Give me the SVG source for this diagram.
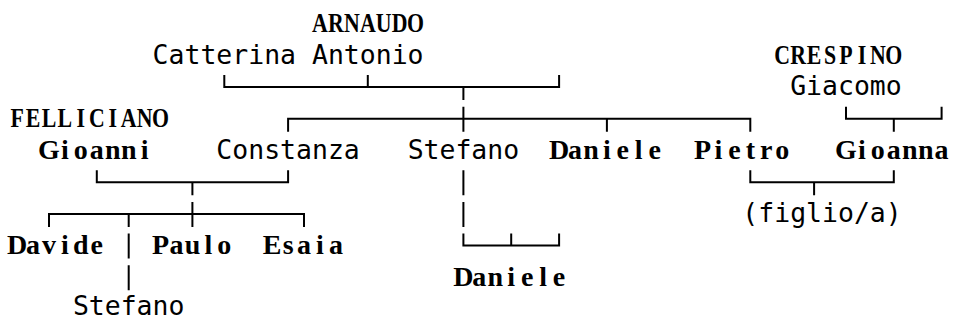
<svg xmlns="http://www.w3.org/2000/svg" width="953" height="320" viewBox="0 0 953 320">
<style>
.m{font-family:"DejaVu Sans Mono","Liberation Mono",monospace;font-size:26.47px;fill:#000}
.s{font-family:"Liberation Serif","DejaVu Serif",serif;font-size:28px;font-weight:bold;fill:#000;text-anchor:middle}
.u{font-size:28px}
.c{fill:none;stroke:#000;stroke-width:2}
</style>
<rect width="953" height="320" fill="#fff"/>
<g id="connectors" class="c">
<path d="M224.3 75.1V87.1H559.1V75.1M367.8 75.1V87.1M463.4 87.1V100.1"/>
<path d="M288.1 131.8V118.8H750.3V131.8M463.4 106.8V131.8M606.9 118.8V131.8"/>
<path d="M846 106.8V118.8H941.6V106.8M893.8 118.8V131.8"/>
<path d="M96.8 170.2V182.2H288.1V170.2M192.4 182.2V195.2"/>
<path d="M463.4 170.2V195.2M463.4 201.9V226.9"/>
<path d="M750.3 170.2V182.2H893.8V170.2M814.1 182.2V195.2"/>
<path d="M49 226.9V213.9H304V226.9M128.7 213.9V226.9M192.4 201.9V226.9"/>
<path d="M128.7 233.6V258.6M128.7 265.3V290.3"/>
<path d="M463.4 233.6V245.6H559.1V233.6M511.2 233.6V245.6"/>
</g>
<g id="arnaudo"><text class="s u" transform="scale(0.78 1)" x="410.21 430.64 451.08 471.51 491.95 512.38 532.82" y="32">ARNAUDO</text></g>
<g id="catterina-antonio"><text class="m" x="152.6" y="63.7">Catterina Antonio</text></g>
<g id="crespino"><text class="s u" transform="scale(0.78 1)" x="1002.85 1023.28 1043.72 1064.15 1084.59 1105.03 1125.46 1145.9" y="63.7">CRESPINO</text></g>
<g id="giacomo"><text class="m" x="790.2" y="95.4">Giacomo</text></g>
<g id="felliciano"><text class="s u" transform="scale(0.78 1)" x="21.92 42.36 62.79 83.23 103.67 124.1 144.54 164.97 185.41 205.85" y="127.1">FELLICIANO</text></g>
<g id="gioanni"><text class="s" x="48.98 64.92 80.86 96.8 112.74 128.68 144.62" y="158.8">Gioanni</text></g>
<g id="constanza"><text class="m" x="216.35" y="158.8">Constanza</text></g>
<g id="stefano"><text class="m" x="407.63" y="158.8">Stefano</text></g>
<g id="daniele"><text class="s" x="559.06 575 590.94 606.88 622.82 638.76 654.7" y="158.8">Daniele</text></g>
<g id="pietro"><text class="s" x="702.52 718.46 734.4 750.34 766.28 782.22" y="158.8">Pietro</text></g>
<g id="gioanna"><text class="s" x="845.98 861.92 877.86 893.8 909.74 925.68 941.62" y="158.8">Gioanna</text></g>
<g id="figlio"><text class="m" x="742.37" y="222.2">(figlio/a)</text></g>
<g id="davide"><text class="s" x="17.1 33.04 48.98 64.92 80.86 96.8" y="253.9">Davide</text></g>
<g id="paulo"><text class="s" x="160.56 176.5 192.44 208.38 224.32" y="253.9">Paulo</text></g>
<g id="esaia"><text class="s" x="272.14 288.08 304.02 319.96 335.9" y="253.9">Esaia</text></g>
<g id="daniele2"><text class="s" x="463.42 479.36 495.3 511.24 527.18 543.12 559.06" y="285.6">Daniele</text></g>
<g id="stefano2"><text class="m" x="72.89" y="314.5">Stefano</text></g>
</svg>
